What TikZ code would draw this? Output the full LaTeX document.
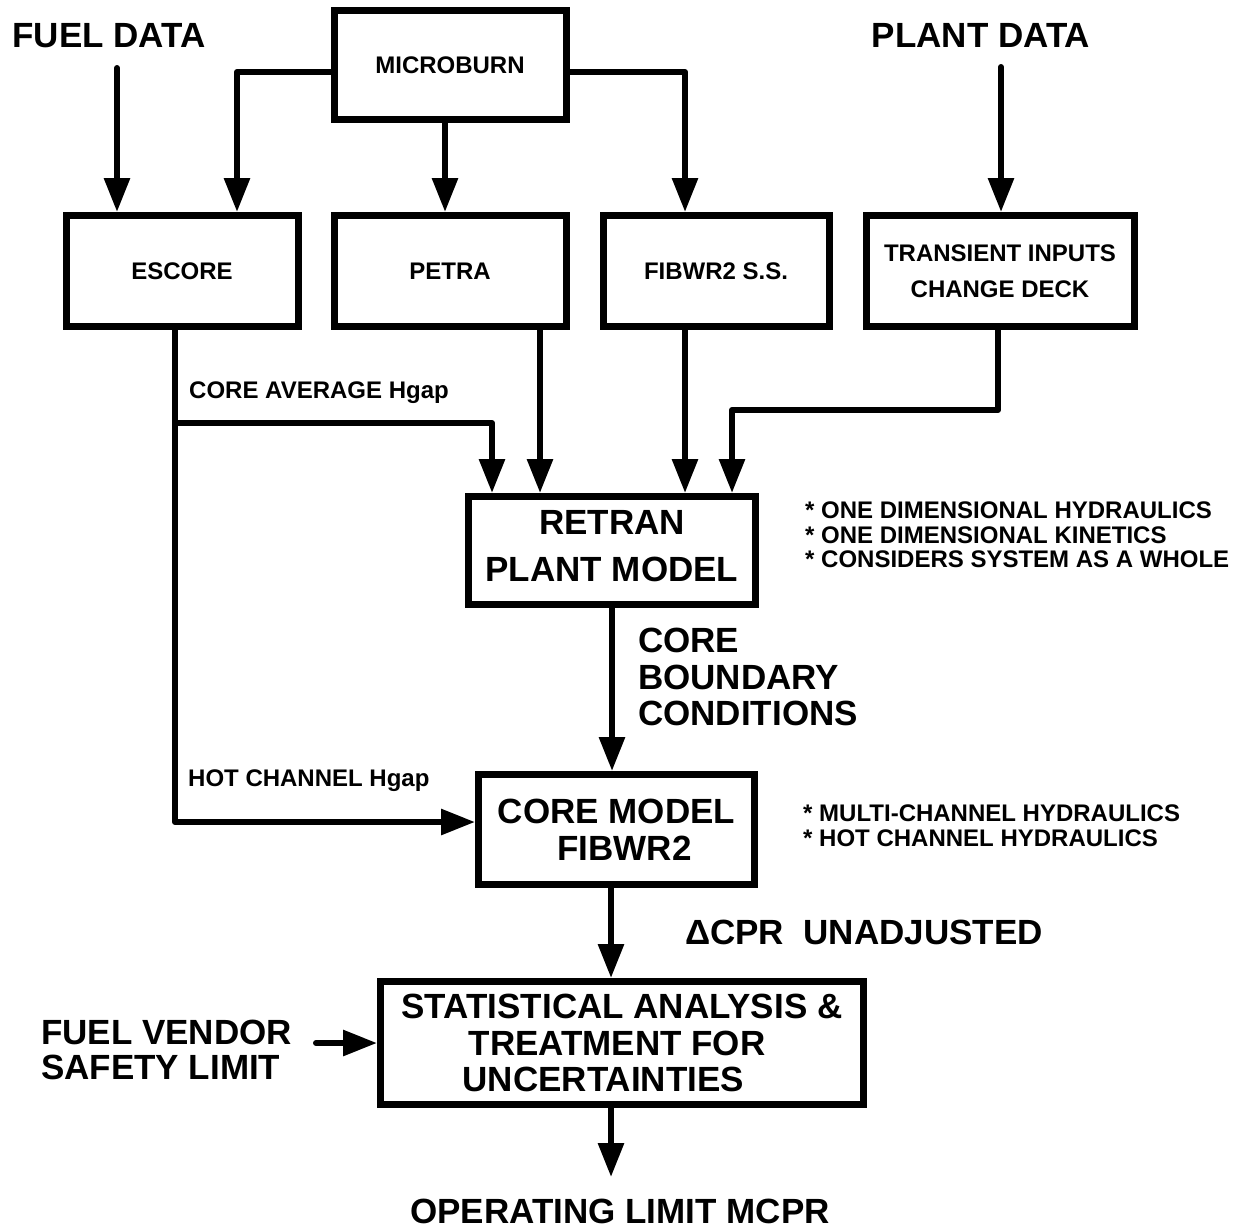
\documentclass[tikz,border=0pt]{standalone}
\usepackage{fontspec}
\setmainfont{Liberation Sans}
\usetikzlibrary{arrows.meta}
\newcommand\FontBig{\fontsize{35}{37}\selectfont\bfseries}
\newcommand\FontMid{\fontsize{24}{25}\selectfont\bfseries}
\begin{document}
\begin{tikzpicture}[x=1pt,y=-1pt,
  box/.style={draw, line width=7pt, rectangle, inner sep=0pt, align=center},
  conn/.style={line width=6pt, line cap=round, line join=round},
  arr/.style={conn, -{Triangle[length=34pt,width=25pt]}},
  txt/.style={inner sep=0pt, align=left}]
\fill[white] (0,0) rectangle (1236,1229);
\useasboundingbox (0,0) rectangle (1236,1229);

% boxes
\node[box, minimum width=232pt, minimum height=109pt, font=\FontMid] (mb) at (450,65) {MICROBURN};
\node[box, minimum width=232pt, minimum height=111pt, font=\FontMid] (escore) at (182,271) {ESCORE};
\node[box, minimum width=232pt, minimum height=111pt, font=\FontMid] (petra) at (450,271) {PETRA};
\node[box, minimum width=226pt, minimum height=111pt, font=\FontMid] (fss) at (716,271) {FIBWR2 S.S.};
\node[box, minimum width=268pt, minimum height=111pt, font=\fontsize{24}{36}\selectfont\bfseries] (ti) at (1000,271) {TRANSIENT INPUTS\\CHANGE DECK};
\node[box, minimum width=287pt, minimum height=108pt, text depth=10pt, font=\fontsize{35}{47}\selectfont\bfseries] (retran) at (612,550.5) {RETRAN\\PLANT MODEL};
\node[box, minimum width=276pt, minimum height=110pt, font=\fontsize{35}{37}\selectfont\bfseries] (coremodel) at (616.5,829.5) {CORE MODEL\\\hspace*{16pt}FIBWR2};
\node[box, minimum width=483pt, minimum height=123pt, align=left, font=\fontsize{35}{36.5}\selectfont\bfseries] (stat) at (622,1043) {STATISTICAL ANALYSIS \&\\\hspace*{67pt}TREATMENT FOR\\\hspace*{61pt}UNCERTAINTIES};

% labels
\node[txt, anchor=base, font=\FontBig] (fuel) at (109,47) {FUEL DATA};
\node[txt, anchor=base, font=\FontBig] (plant) at (981,47) {PLANT DATA};
\node[txt, anchor=base west, font=\FontMid] (avg) at (189,398) {CORE AVERAGE Hgap};
\node[txt, anchor=base west, font=\FontMid] (hot) at (188,786) {HOT CHANNEL Hgap};
\node[txt, anchor=north west, font=\fontsize{24}{24.5}\selectfont\bfseries] (b1) at (805,502) {* ONE DIMENSIONAL HYDRAULICS\\* ONE DIMENSIONAL KINETICS\\* CONSIDERS SYSTEM AS A WHOLE};
\node[txt, anchor=north west, font=\fontsize{35}{36.5}\selectfont\bfseries] (cbc) at (638,628) {CORE\\BOUNDARY\\CONDITIONS};
\node[txt, anchor=north west, font=\fontsize{24}{25}\selectfont\bfseries] (b2) at (803,805) {* MULTI-CHANNEL HYDRAULICS\\* HOT CHANNEL HYDRAULICS};
\node[txt, anchor=west, font=\FontBig] (dcpr) at (685,932) {ΔCPR\ \ UNADJUSTED};
\node[txt, anchor=north west, font=\fontsize{35}{35}\selectfont\bfseries] (fv) at (41,1020) {FUEL VENDOR\\SAFETY LIMIT};
\node[txt, anchor=base, font=\FontBig] (opl) at (620,1223) {OPERATING LIMIT MCPR};

% connectors
\coordinate (fdS) at (117,68);
\coordinate (pdS) at (1001,67);
\draw[arr] (fdS) -- (fdS |- escore.north);
\draw[arr] ([yshift=-7pt]mb.west) -| ([xshift=55pt]escore.north);
\draw[arr] ([xshift=-5pt]mb.south) -- ([xshift=-5pt]petra.north);
\draw[arr] ([yshift=-7pt]mb.east) -| ([xshift=-31pt]fss.north);
\draw[arr] (pdS) -- (pdS |- ti.north);

\coordinate (split) at (175,423);
\draw[arr] ([xshift=-7pt]escore.south) |- ([yshift=7.5pt]coremodel.west);
\draw[arr] (split) -| ([xshift=-120pt]retran.north);
\coordinate (pe) at ([xshift=90pt]petra.south);
\draw[arr] (pe) -- (pe |- retran.north);
\coordinate (fe) at ([xshift=-31pt]fss.south);
\draw[arr] (fe) -- (fe |- retran.north);
\draw[arr] ([xshift=-2pt]ti.south) -- ++(0,80) -| ([xshift=120pt]retran.north);
\draw[arr] (retran.south) -- (retran.south |- coremodel.north);
\coordinate (ce) at ([xshift=-5.5pt]coremodel.south);
\draw[arr] (ce) -- (ce |- stat.north);
\coordinate (fvS) at (316,1043);
\draw[arr] (fvS) -- (stat.west);
\coordinate (oplT) at (611,1177);
\draw[arr] ([xshift=-11pt]stat.south) -- (oplT);
\end{tikzpicture}
\end{document}
